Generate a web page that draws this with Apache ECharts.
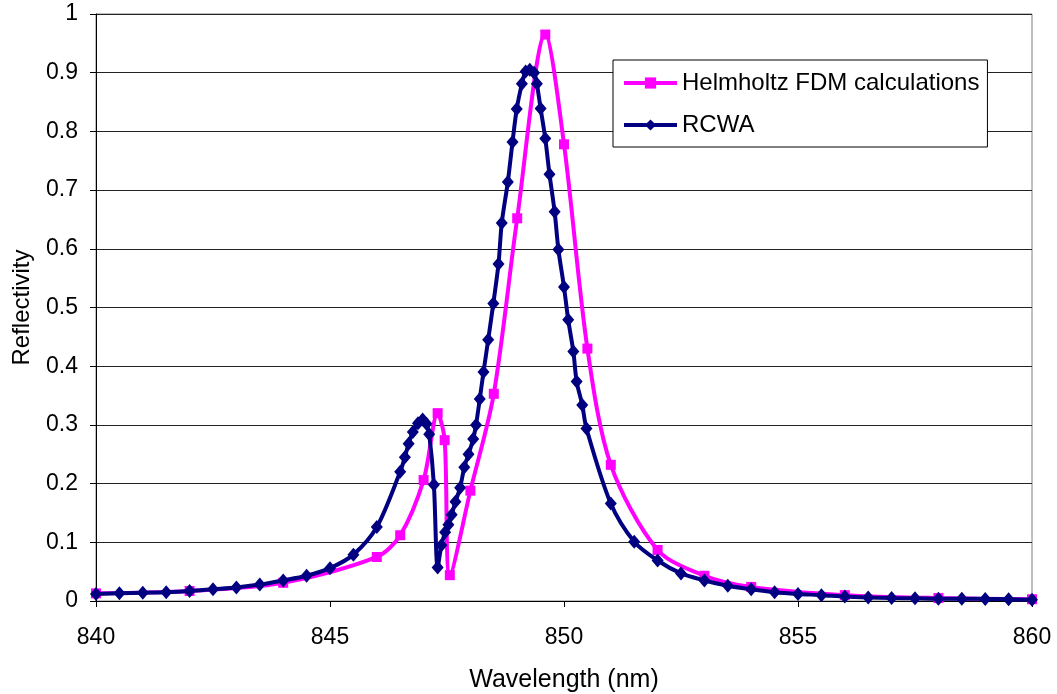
<!DOCTYPE html>
<html><head><meta charset="utf-8">
<script src="https://cdn.jsdelivr.net/npm/echarts@6/dist/echarts.min.js"></script>
<style>html,body{margin:0;padding:0;background:#fff}#c{width:1057px;height:694px}</style>
</head><body><div id="c"></div>
<script>
var seriesNames = ['Helmholtz FDM calculations', 'RCWA'];
var fdmWavelength = [840, 842, 844, 846, 846.5, 847, 847.3, 847.45, 847.56, 848, 848.5, 849, 849.6, 850, 850.5, 851, 852, 853, 854, 856, 858, 860];
var fdmReflectivity = [0.013, 0.017, 0.031, 0.075, 0.112, 0.206, 0.32, 0.274, 0.044, 0.188, 0.353, 0.652, 0.965, 0.778, 0.430, 0.232, 0.087, 0.043, 0.024, 0.010, 0.005, 0.003];
var rcwaWavelength = [840, 840.5, 841, 841.5, 842, 842.5, 843, 843.5, 844, 844.5, 845, 845.5, 846, 846.5, 846.6, 846.68, 846.77, 846.88, 846.98, 847.06, 847.12, 847.22, 847.3, 847.38, 847.46, 847.53, 847.6, 847.68, 847.78, 847.87, 847.96, 848.06, 848.12, 848.2, 848.28, 848.38, 848.49, 848.6, 848.67, 848.8, 848.9, 848.99, 849.1, 849.18, 849.27, 849.36, 849.42, 849.5, 849.6, 849.69, 849.8, 849.88, 850.0, 850.09, 850.2, 850.27, 850.39, 850.48, 851, 851.5, 852, 852.5, 853, 853.5, 854, 854.5, 855, 855.5, 856, 856.5, 857, 857.5, 858, 858.5, 859, 859.5, 860];
var rcwaReflectivity = [0.012, 0.013, 0.014, 0.015, 0.017, 0.020, 0.023, 0.028, 0.035, 0.043, 0.056, 0.079, 0.126, 0.220, 0.245, 0.268, 0.288, 0.303, 0.309, 0.302, 0.284, 0.198, 0.057, 0.095, 0.117, 0.130, 0.147, 0.169, 0.193, 0.228, 0.250, 0.276, 0.300, 0.344, 0.390, 0.445, 0.507, 0.574, 0.644, 0.714, 0.782, 0.838, 0.881, 0.902, 0.905, 0.900, 0.881, 0.839, 0.788, 0.727, 0.663, 0.599, 0.535, 0.479, 0.425, 0.374, 0.334, 0.294, 0.166, 0.101, 0.069, 0.047, 0.035, 0.026, 0.020, 0.015, 0.012, 0.010, 0.0075, 0.006, 0.005, 0.0045, 0.004, 0.004, 0.0035, 0.003, 0.002];

function pairs(xs, ys) { return xs.map(function (x, i) { return [x, ys[i]]; }); }

var chart = echarts.init(document.getElementById('c'));
var font = 'Liberation Sans, Arial, sans-serif';
chart.setOption({
  animation: false,
  backgroundColor: '#ffffff',
  grid: { left: 96, right: 25, top: 14, bottom: 93, outerBoundsMode: 'none', containLabel: false, show: true, borderColor: '#808080', borderWidth: 1, backgroundColor: 'transparent' },
  legend: {
    orient: 'vertical', left: 613, top: 60, padding: [11, 8, 10, 9], itemGap: 18,
    itemWidth: 53, itemHeight: 14,
    backgroundColor: '#fff', borderColor: '#000', borderWidth: 1, borderRadius: 0,
    lineStyle: { width: 4 },
    textStyle: { fontFamily: font, fontSize: 24, color: '#000' },
    data: seriesNames
  },
  xAxis: {
    type: 'value', min: 840, max: 860, interval: 5,
    name: 'Wavelength (nm)', nameLocation: 'middle', nameGap: 67,
    nameTextStyle: { fontFamily: font, fontSize: 25, color: '#000' },
    axisLine: { show: true, lineStyle: { color: '#000', width: 1 } },
    axisTick: { show: true, inside: false, length: 6, lineStyle: { color: '#000' } },
    axisLabel: { fontFamily: font, fontSize: 23, color: '#000', margin: 25 },
    splitLine: { show: false }
  },
  yAxis: {
    type: 'value', min: 0, max: 1, interval: 0.1,
    name: 'Reflectivity', nameLocation: 'middle', nameGap: 62, nameRotate: 90,
    nameTextStyle: { fontFamily: font, fontSize: 24, color: '#000' },
    axisLine: { show: true, lineStyle: { color: '#000', width: 1 } },
    axisTick: { show: true, inside: false, length: 6, lineStyle: { color: '#000' } },
    axisLabel: { fontFamily: font, fontSize: 23, color: '#000', margin: 18 },
    splitLine: { show: true, lineStyle: { color: '#222', width: 1 } }
  },
  series: [
    {
      name: seriesNames[0], type: 'line', data: pairs(fdmWavelength, fdmReflectivity),
      smooth: 0.3, symbol: 'rect', symbolSize: 10,
      lineStyle: { color: '#FF00FF', width: 4 }, itemStyle: { color: '#FF00FF' }, z: 2
    },
    {
      name: seriesNames[1], type: 'line', data: pairs(rcwaWavelength, rcwaReflectivity),
      smooth: 0.3, symbol: 'diamond', symbolSize: [12, 14],
      lineStyle: { color: '#000080', width: 4 }, itemStyle: { color: '#000080' }, z: 3
    }
  ]
});
</script>
</body></html>
